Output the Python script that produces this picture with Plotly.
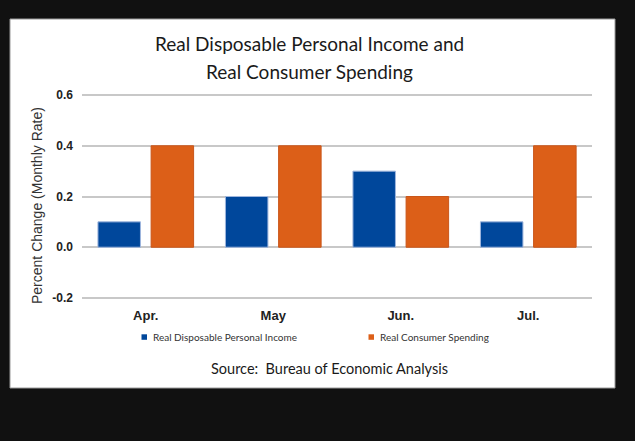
import plotly.graph_objects as go

months = ["Apr.", "May", "Jun.", "Jul."]
income = [0.1, 0.2, 0.3, 0.1]
spending = [0.4, 0.4, 0.2, 0.4]
series_names = ["Real Disposable Personal Income", "Real Consumer Spending"]
colors = ["#00479B", "#DC5F18"]
edge_colors = ["#9fb6dd", "#c9561a"]
y_ticks = [-0.2, 0.0, 0.2, 0.4, 0.6]
y_tick_labels = ["-0.2", "0.0", "0.2", "0.4", "0.6"]
title_lines = ["Real Disposable Personal Income and", "Real Consumer Spending"]
source_text = "Source:  Bureau of Economic Analysis"
y_title = "Percent Change (Monthly Rate)"

W, H = 635, 441
L, R, T, B = 82, 592, 92, 301   # plot area in px; range padded so that 0.6 -> 95px, -0.2 -> 298px
Y_RANGE = [-0.212, 0.612]


def px(x):
    return (x - L) / (R - L)


def py(y):
    return (B - y) / (B - T)


fig = go.Figure()
offsets = [-0.375, 0.042]
for name, vals, col, ec, off in zip(series_names, [income, spending], colors, edge_colors, offsets):
    fig.add_bar(x=months, y=vals, name=name, width=1/3, offset=off, showlegend=False,
                marker=dict(color=col, line=dict(color=ec, width=1)))

annotations = []
for txt, yy in zip(title_lines, [43, 71]):
    annotations.append(dict(text=txt, x=px(309), y=py(yy), xref="paper", yref="paper",
                            xanchor="center", yanchor="middle", showarrow=False,
                            font=dict(family="Lato", size=19, color="#1a1a1a")))
annotations.append(dict(text=source_text, x=px(329), y=py(368), xref="paper", yref="paper",
                        xanchor="center", yanchor="middle", showarrow=False,
                        font=dict(family="Lato", size=14.5, color="#1a1a1a")))
annotations.append(dict(text=y_title, x=px(37), y=py(206), xref="paper", yref="paper",
                        xanchor="center", yanchor="middle", showarrow=False, textangle=-90,
                        font=dict(family="Liberation Sans", size=14, color="#333333")))

# legend (drawn as swatches + text)
shapes = [dict(type="rect", xref="paper", yref="paper", x0=px(10), x1=px(615), y0=py(19), y1=py(388),
               fillcolor="white", line=dict(color="#9a9a9a", width=1), layer="below")]
legend_x = [151, 378]
for name, col, lx in zip(series_names, colors, legend_x):
    annotations.append(dict(text=name, x=px(lx), y=py(337), xref="paper", yref="paper",
                            xanchor="left", yanchor="middle", showarrow=False,
                            font=dict(family="Lato", size=10, color="#333333")))
    shapes.append(dict(type="rect", xref="paper", yref="paper",
                       x0=px(lx - 9.5), x1=px(lx - 4), y0=py(339.8), y1=py(334.3),
                       fillcolor=col, line=dict(width=0)))

fig.update_layout(
    width=W, height=H,
    margin=dict(l=L, r=W - R, t=T, b=H - B, pad=0),
    paper_bgcolor="#111111",
    plot_bgcolor="rgba(0,0,0,0)",
    barmode="overlay",
    showlegend=False,
    shapes=shapes,
    annotations=annotations,
    xaxis=dict(showgrid=False, zeroline=False, showline=False,
               tickfont=dict(family="Liberation Sans", size=13, color="#222222", weight="bold"),
               ticklabelstandoff=5),
    yaxis=dict(range=Y_RANGE, tickvals=y_ticks, ticktext=y_tick_labels,
               showgrid=True, gridcolor="#c8c8c8", gridwidth=1.5, zeroline=False, showline=False,
               tickfont=dict(family="Liberation Sans", size=12, color="#222222", weight="bold"),
               ticklabelstandoff=8),
)

fig.write_html("out.html")
